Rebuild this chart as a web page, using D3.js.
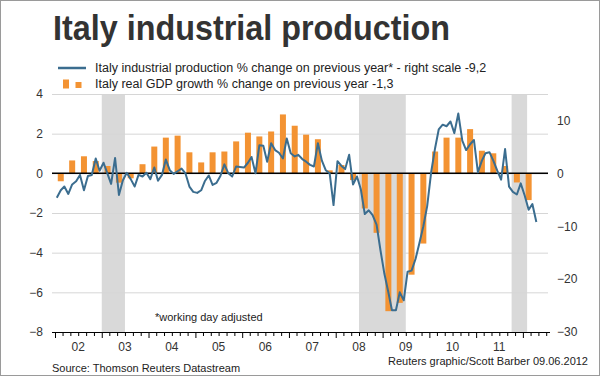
<!DOCTYPE html>
<html>
<head>
<meta charset="utf-8">
<script src="https://cdn.jsdelivr.net/npm/d3@7"></script>
<style>
  body { margin: 0; background: #fff; }
  svg { display: block; font-family: "Liberation Sans", Arial, sans-serif; }
</style>
</head>
<body>
<svg id="chart" width="600" height="376"></svg>
<script>
// Italy real GDP growth, % change on previous year, quarterly Q1 2002 .. Q1 2012 (left scale)
const gdpGrowth = [
  -0.4, 0.65, 0.86, 0.62,
  0.37, -0.47, -0.25, 0.46,
  1.35, 1.8, 1.9, 1.06,
  0.55, 1.06, 1.1, 1.61,
  2.05, 1.86, 2.11, 2.97,
  2.4, 1.95, 1.72, 0.15,
  0.42, -0.34, -1.77, -3.0,
  -6.95, -6.53, -5.11, -3.54,
  1.1, 1.8, 1.8, 2.23,
  1.14, 1.01, 0.37, -0.46,
  -1.35
];

// Italy industrial production, % change on previous year, monthly Jan 2002 .. Apr 2012 (right scale)
const ipChange = [
  -4.6, -3.2, -2.5, -3.9, -2.1, -1.5, -0.3, -3.2, -0.5, -0.3, 2.8, 0.5,
  2.0, -0.1, -2.0, 2.9, -4.1, -1.3, 0.1, -1.1, -2.5, -0.3, -0.6, 0.1,
  -1.1, 1.1, -1.4, -0.3, 2.6, 0.6, -0.1, 0.4, 0.9, 0.0, -2.5, -3.5,
  -3.7, -3.2, -1.5, -0.4, -2.2, -1.8, -0.5, 1.7, 0.0, -0.6, 1.3, 1.2,
  1.1, 2.0, 3.1, 0.0, 5.3, 5.2, 2.2, 5.7, 4.4, 3.9, 2.8, 6.6,
  3.8, 3.2, 3.5, 2.7, 2.2, 1.6, 1.3, 5.7, 2.4, 0.6, 0.0, -6.0,
  2.3, 1.4, 0.8, 3.5, -2.1, -0.6, -3.0, -7.7, -7.0, -7.9, -9.7, -14.5,
  -19.0, -22.5, -25.9, -25.9, -22.5, -24.0, -18.6, -18.4, -16.2, -13.2, -10.0, -6.2,
  0.2, 4.8, 8.3, 9.2, 8.9, 9.8, 7.6, 11.3, 6.2, 4.4, 5.5, 6.3,
  0.2, 2.4, 3.8, 4.0, 2.4, 0.5, -1.2, 4.6, -2.5, -3.5, -4.0, -1.9,
  -4.2, -6.9, -5.8, -9.2
];

// shaded periods
const recessionStart = ["2003-01-01", "2008-07-01", "2011-10-05"];
const recessionEnd = ["2003-07-01", "2009-07-01", "2012-02-03"];

const yearLabels = ["02", "03", "04", "05", "06", "07", "08", "09", "10", "11"];
const leftTicks = [4, 2, 0, -2, -4, -6, -8];
const rightTicks = [10, 0, -10, -20, -30];

const svg = d3.select("#chart");
const W = 600, H = 376;
const plotLeft = 52, plotRight = 548, plotTop = 94, plotBottom = 332;

const parse = d3.timeParse("%Y-%m-%d");
const gdpData = gdpGrowth.map((v, i) => ({ date: new Date(2002, i * 3 + 1, 15), value: v }));
const ipData = ipChange.map((v, i) => ({ date: new Date(2002, i, 15), value: v }));

// scales
const x = d3.scaleTime()
  .domain([new Date(2002, 0, 1), new Date(2012, 6, 15)])
  .range([55, plotRight]);
const yLeft = d3.scaleLinear().domain([-8, 4]).range([plotBottom, plotTop]);
const yRight = d3.scaleLinear().domain([-30, 15]).range([plotBottom, plotTop]);

// frame
svg.append("rect")
  .attr("x", 0.5).attr("y", 0.5)
  .attr("width", W - 1).attr("height", H - 1)
  .attr("fill", "#fff").attr("stroke", "#9a9a9a");

// title
svg.append("text")
  .attr("x", 53).attr("y", 40)
  .attr("font-size", 35).attr("font-weight", "bold")
  .attr("fill", "#333")
  .attr("textLength", 397).attr("lengthAdjust", "spacingAndGlyphs")
  .text("Italy industrial production");

// legend
const legend = svg.append("g").attr("font-size", 12.5).attr("fill", "#222");
legend.append("line")
  .attr("x1", 58).attr("x2", 86).attr("y1", 68).attr("y2", 68)
  .attr("stroke", "#3b6d8f").attr("stroke-width", 2.5);
legend.append("text").attr("x", 95).attr("y", 72)
  .text("Italy industrial production % change on previous year* - right scale -9,2");
legend.append("rect").attr("x", 63).attr("y", 79.5).attr("width", 6).attr("height", 9).attr("fill", "#f39333");
legend.append("rect").attr("x", 75.5).attr("y", 82).attr("width", 6).attr("height", 6).attr("fill", "#f39333");
legend.append("text").attr("x", 95).attr("y", 88)
  .text("Italy real GDP growth % change on previous year -1,3");

// shaded recession bands
svg.append("g").selectAll("rect")
  .data(recessionStart.map((s, i) => [parse(s), parse(recessionEnd[i])]))
  .join("rect")
  .attr("x", d => x(d[0]))
  .attr("width", d => x(d[1]) - x(d[0]))
  .attr("y", plotTop).attr("height", plotBottom - plotTop)
  .attr("fill", "#d9d9d9");

// gridlines + left labels
const gLeft = svg.append("g")
  .attr("transform", `translate(${plotLeft},0)`)
  .call(d3.axisLeft(yLeft).tickValues(leftTicks).tickSize(-(plotRight - plotLeft)).tickPadding(9));
gLeft.select(".domain").remove();
gLeft.selectAll(".tick line").attr("stroke", "#d6d6d6");
gLeft.selectAll(".tick text")
  .attr("font-size", 12).attr("font-family", "Liberation Sans, Arial, sans-serif").attr("fill", "#333");

// right labels
const gRight = svg.append("g")
  .attr("transform", `translate(${plotRight},0)`)
  .call(d3.axisRight(yRight).tickValues(rightTicks).tickSize(0).tickPadding(9));
gRight.select(".domain").remove();
gRight.selectAll(".tick text")
  .attr("font-size", 12).attr("font-family", "Liberation Sans, Arial, sans-serif").attr("fill", "#333");

// GDP bars
svg.append("g").selectAll("rect")
  .data(gdpData)
  .join("rect")
  .attr("x", d => x(d.date) - 3)
  .attr("width", 6)
  .attr("y", d => yLeft(Math.max(0, d.value)))
  .attr("height", d => Math.abs(yLeft(d.value) - yLeft(0)))
  .attr("fill", "#f39333");

// zero line
svg.append("line")
  .attr("x1", plotLeft).attr("x2", plotRight)
  .attr("y1", yLeft(0)).attr("y2", yLeft(0))
  .attr("stroke", "#000").attr("stroke-width", 1.5);

// industrial production line
svg.append("path")
  .datum(ipData)
  .attr("fill", "none")
  .attr("stroke", "#3b6d8f")
  .attr("stroke-width", 2)
  .attr("stroke-linejoin", "round")
  .attr("d", d3.line().x(d => x(d.date)).y(d => yRight(d.value)));

// bottom axis: bi-monthly ticks, taller at each year
const gx = svg.append("g")
  .attr("transform", `translate(0,${plotBottom})`)
  .call(d3.axisBottom(x).ticks(d3.timeMonth.every(2)).tickSize(4).tickFormat(""));
gx.select(".domain").attr("d", `M${plotLeft},0.5H${plotRight + 2}`).attr("stroke", "#000");
gx.selectAll(".tick line").attr("stroke", "#000")
  .attr("y2", d => d.getMonth() === 0 ? 6 : 4);

svg.append("g").attr("font-size", 12).attr("fill", "#333")
  .selectAll("text")
  .data(yearLabels)
  .join("text")
  .attr("x", d => x(new Date(2000 + (+d), 6, 1)))
  .attr("y", 351)
  .attr("text-anchor", "middle")
  .text(d => d);

// notes
svg.append("text").attr("x", 155).attr("y", 321).attr("font-size", 11).attr("fill", "#222")
  .text("*working day adjusted");
svg.append("text").attr("x", 52).attr("y", 372).attr("font-size", 11).attr("fill", "#222")
  .text("Source: Thomson Reuters Datastream");
svg.append("text").attr("x", 588).attr("y", 365).attr("font-size", 11).attr("fill", "#222")
  .attr("text-anchor", "end")
  .text("Reuters graphic/Scott Barber 09.06.2012");
</script>
</body>
</html>
